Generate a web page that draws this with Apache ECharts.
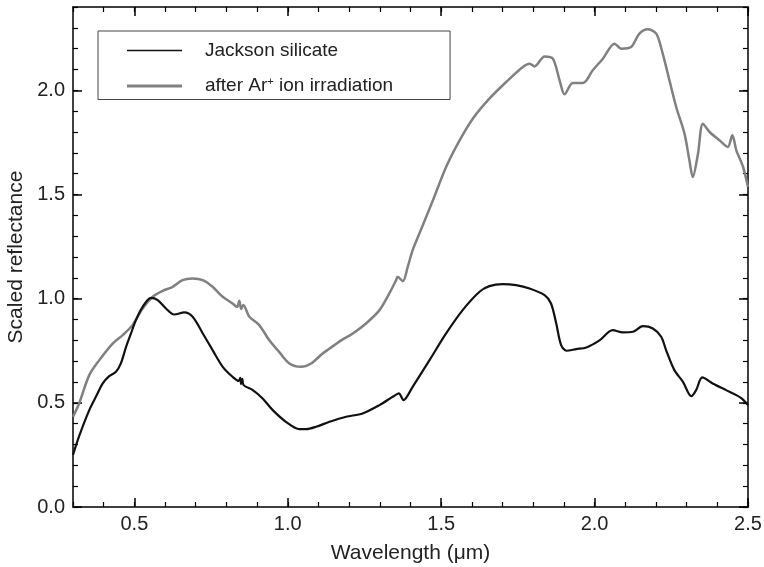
<!DOCTYPE html>
<html>
<head>
<meta charset="utf-8">
<script src="https://cdn.jsdelivr.net/npm/echarts@6/dist/echarts.min.js"></script>
<style>
  html, body { margin: 0; padding: 0; background: #fff; }
  #chart { width: 764px; height: 567px; }
</style>
</head>
<body>
<div id="chart"></div>
<script>
// Jackson silicate (black)
const jacksonX = [0.30, 0.32, 0.353, 0.375, 0.397, 0.418, 0.44, 0.456, 0.473, 0.489, 0.505, 0.527, 0.554, 0.576, 0.603, 0.63, 0.663, 0.69, 0.723, 0.755, 0.788, 0.82, 0.84, 0.845, 0.848, 0.852, 0.856, 0.886, 0.918, 0.951, 0.994, 1.038, 1.06, 1.092, 1.136, 1.19, 1.244, 1.299, 1.342, 1.362, 1.377, 1.407, 1.462, 1.516, 1.57, 1.625, 1.657, 1.70, 1.744, 1.788, 1.837, 1.858, 1.875, 1.891, 1.909, 1.94, 1.973, 2.016, 2.059, 2.092, 2.125, 2.157, 2.19, 2.217, 2.233, 2.26, 2.288, 2.315, 2.331, 2.351, 2.385, 2.429, 2.462, 2.48, 2.5]
const jacksonY = [0.25, 0.34, 0.465, 0.53, 0.593, 0.628, 0.649, 0.689, 0.769, 0.833, 0.897, 0.961, 1.004, 0.993, 0.953, 0.924, 0.934, 0.913, 0.833, 0.753, 0.673, 0.625, 0.605, 0.62, 0.59, 0.615, 0.585, 0.561, 0.521, 0.465, 0.409, 0.374, 0.374, 0.385, 0.409, 0.433, 0.449, 0.489, 0.529, 0.545, 0.513, 0.577, 0.705, 0.833, 0.945, 1.033, 1.06, 1.07, 1.065, 1.049, 1.017, 0.977, 0.881, 0.777, 0.75, 0.758, 0.766, 0.80, 0.849, 0.838, 0.841, 0.868, 0.857, 0.817, 0.753, 0.657, 0.601, 0.532, 0.561, 0.622, 0.593, 0.561, 0.537, 0.52, 0.489]

// after Ar+ ion irradiation (grey)
const irradX = [0.30, 0.32, 0.353, 0.386, 0.43, 0.462, 0.494, 0.527, 0.56, 0.592, 0.625, 0.657, 0.69, 0.723, 0.755, 0.788, 0.82, 0.835, 0.842, 0.848, 0.855, 0.875, 0.907, 0.94, 0.973, 1.005, 1.043, 1.076, 1.114, 1.152, 1.174, 1.212, 1.255, 1.299, 1.331, 1.353, 1.358, 1.375, 1.391, 1.407, 1.429, 1.473, 1.516, 1.56, 1.603, 1.657, 1.712, 1.766, 1.788, 1.804, 1.837, 1.864, 1.886, 1.902, 1.929, 1.962, 1.994, 2.027, 2.065, 2.087, 2.119, 2.146, 2.173, 2.201, 2.222, 2.244, 2.266, 2.293, 2.309, 2.32, 2.337, 2.353, 2.375, 2.407, 2.434, 2.449, 2.462, 2.484, 2.5]
const irradY = [0.433, 0.497, 0.633, 0.705, 0.785, 0.825, 0.873, 0.953, 1.009, 1.037, 1.057, 1.089, 1.097, 1.089, 1.057, 1.009, 0.977, 0.96, 0.99, 0.95, 0.97, 0.913, 0.873, 0.80, 0.742, 0.689, 0.673, 0.689, 0.737, 0.777, 0.80, 0.833, 0.881, 0.945, 1.025, 1.089, 1.105, 1.084, 1.153, 1.233, 1.313, 1.472, 1.632, 1.76, 1.864, 1.96, 2.04, 2.112, 2.128, 2.115, 2.163, 2.152, 2.048, 1.981, 2.035, 2.035, 2.096, 2.152, 2.224, 2.2, 2.208, 2.272, 2.293, 2.272, 2.176, 2.048, 1.92, 1.792, 1.664, 1.584, 1.696, 1.84, 1.80, 1.76, 1.728, 1.784, 1.712, 1.632, 1.536]

const xMajor = [0.5, 1.0, 1.5, 2.0, 2.5]
const yMajor = [0.0, 0.5, 1.0, 1.5, 2.0]

const FONT = 'Liberation Sans, Arial, sans-serif'
const chart = echarts.init(document.getElementById('chart'))

const zip = (xs, ys) => xs.map((x, i) => [x, ys[i]])

// major and minor ticks live on separate, overlapping axes
function xAxisDef(pos, major) {
  return {
    type: 'value', position: pos, min: 0.3, max: 2.5,
    interval: major ? undefined : 0.1,
    axisLine: { show: major, onZero: false, lineStyle: { color: '#000', width: 1.5 } },
    axisTick: major
      ? { inside: true, length: 9, customValues: xMajor, lineStyle: { color: '#000', width: 1.5 } }
      : { inside: true, length: 5, lineStyle: { color: '#000', width: 1.2 } },
    axisLabel: (major && pos === 'bottom')
      ? { customValues: xMajor, formatter: v => v.toFixed(1), color: '#222', fontSize: 20, fontFamily: FONT, margin: 7 }
      : { show: false },
    splitLine: { show: false },
    name: (major && pos === 'bottom') ? 'Wavelength (μm)' : '',
    nameLocation: 'middle', nameGap: 36,
    nameTextStyle: { color: '#222', fontSize: 21, fontFamily: FONT }
  }
}
function yAxisDef(pos, major) {
  return {
    type: 'value', position: pos, min: 0, max: 2.4,
    interval: major ? 0.5 : 0.1,
    axisLine: { show: major, onZero: false, lineStyle: { color: '#000', width: 1.5 } },
    axisTick: major
      ? { inside: true, length: 9, customValues: yMajor, lineStyle: { color: '#000', width: 1.5 } }
      : { inside: true, length: 5, lineStyle: { color: '#000', width: 1.2 } },
    axisLabel: (major && pos === 'left')
      ? { customValues: yMajor, formatter: v => v.toFixed(1), color: '#222', fontSize: 20, fontFamily: FONT, margin: 8 }
      : { show: false },
    splitLine: { show: false },
    name: (major && pos === 'left') ? 'Scaled reflectance' : '',
    nameLocation: 'middle', nameGap: 41,
    nameTextStyle: { color: '#222', fontSize: 21, fontFamily: FONT }
  }
}

const option = {
  backgroundColor: '#fff',
  animation: false,
  grid: { left: 73, right: 16, top: 7, bottom: 60, outerBoundsMode: 'none' },
  legend: {
    left: 98, top: 31, orient: 'vertical',
    borderColor: '#444', borderWidth: 1,
    padding: [10, 57, 4, 29],
    itemWidth: 55, itemHeight: 14, itemGap: 16,
    textStyle: {
      color: '#222', fontSize: 19, fontFamily: FONT, padding: [0, 0, 0, 18],
      rich: { sup: { fontSize: 11, verticalAlign: 'top', padding: [0, 0, 9, 0], color: '#222', fontFamily: FONT } }
    },
    formatter: name => name === 'after Ar+ ion irradiation' ? 'after Ar{sup|+} ion irradiation' : name,
    data: [
      { name: 'Jackson silicate', icon: 'path://M0,0 H55 V1.6 H0 Z' },
      { name: 'after Ar+ ion irradiation', icon: 'path://M0,0 H55 V3 H0 Z' }
    ]
  },
  xAxis: [xAxisDef('bottom', true), xAxisDef('bottom', false), xAxisDef('top', true), xAxisDef('top', false)],
  yAxis: [yAxisDef('left', true), yAxisDef('left', false), yAxisDef('right', true), yAxisDef('right', false)],
  series: [
    {
      name: 'after Ar+ ion irradiation', type: 'line', showSymbol: false, symbol: 'none',
      data: zip(irradX, irradY), smooth: 0.3,
      lineStyle: { color: '#808080', width: 2.5 }, itemStyle: { color: '#808080' }
    },
    {
      name: 'Jackson silicate', type: 'line', showSymbol: false, symbol: 'none',
      data: zip(jacksonX, jacksonY), smooth: 0.3,
      lineStyle: { color: '#111', width: 2.2 }, itemStyle: { color: '#111' }
    }
  ]
}

chart.setOption(option)
</script>
</body>
</html>
